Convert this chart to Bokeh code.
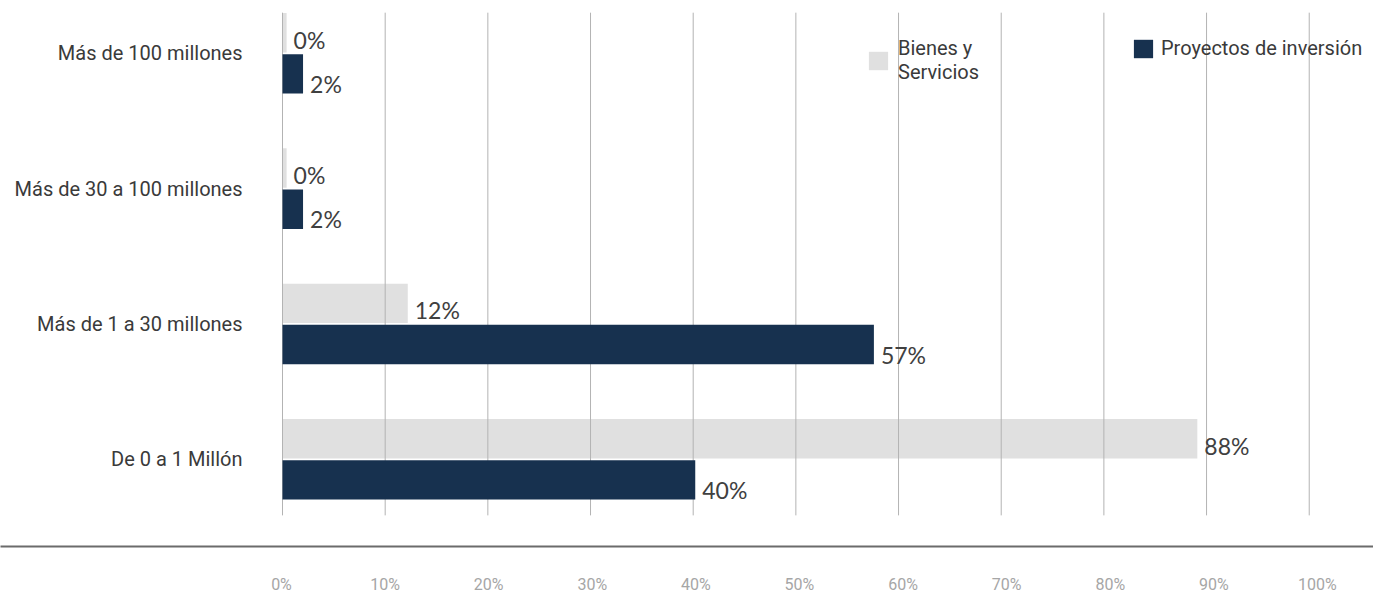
from bokeh.plotting import figure
from bokeh.models import Range1d, LinearAxis, FixedTicker, Legend, LegendItem, ColumnDataSource
from bokeh.core.properties import value
from bokeh.embed import file_html
from bokeh.resources import INLINE

# ---- data ----
categories = ["Más de 100 millones", "Más de 30 a 100 millones",
              "Más de 1 a 30 millones", "De 0 a 1 Millón"]
bienes = [0.4, 0.4, 12.2, 89.1]
bienes_labels = ["0%", "0%", "12%", "88%"]
proyectos = [2.0, 2.0, 57.6, 40.2]
proyectos_labels = ["2%", "2%", "57%", "40%"]
series_names = ["Bienes y\nServicios", "Proyectos de inversión"]
series_colors = ["#e0e0e0", "#17314f"]
tick_values = [0, 10, 20, 30, 40, 50, 60, 70, 80, 90, 100]
tick_labels = ["0%", "10%", "20%", "30%", "40%", "50%", "60%", "70%", "80%", "90%", "100%"]

FONT_NAME = "Roboto"
FONT = value(FONT_NAME)

n = len(categories)
ypos = [n - 1 - i for i in range(n)]
off = 0.152
bar_h = 0.291

src_b = ColumnDataSource(dict(y=[v + off for v in ypos], right=bienes, lab=bienes_labels))
src_p = ColumnDataSource(dict(y=[v - off for v in ypos], right=proyectos, lab=proyectos_labels))
src_c = ColumnDataSource(dict(y=ypos, x=[0] * n, cat=categories))

p = figure(width=1373, height=596,
           x_range=Range1d(-27.467, 106.26), y_range=Range1d(-0.644, 3.390),
           output_backend="svg", toolbar_location=None,
           x_axis_location=None, y_axis_location=None,
           min_border=0, outline_line_color=None)
p.grid.visible = False
p.min_border_bottom = 48

# bars (light series under grid lines, dark series above)
r_b = p.hbar(y="y", left=0, right="right", height=bar_h, source=src_b,
             fill_color=series_colors[0], line_color=None)
p.segment(x0=tick_values, x1=tick_values,
          y0=[-0.414] * len(tick_values), y1=[3.30] * len(tick_values),
          line_color="#b3b3b3", line_width=1)
r_p = p.hbar(y="y", left=0, right="right", height=bar_h, source=src_p,
             fill_color=series_colors[1], line_color=None)

# value labels
p.text(x="right", y="y", text="lab", source=src_b, x_offset=7, y_offset=7,
       text_align="left", text_baseline="middle", text_font=value("Lato"),
       text_font_size="23px", text_color="#404040")
p.text(x="right", y="y", text="lab", source=src_p, x_offset=7, y_offset=10,
       text_align="left", text_baseline="middle", text_font=value("Lato"),
       text_font_size="23px", text_color="#404040")

# category labels
p.text(x="x", y="y", text="cat", source=src_c, x_offset=-40,
       text_align="right", text_baseline="middle", text_font=FONT,
       text_font_size="20px", text_color="#3a3a3a")

# bottom axis with percentage labels
p.extra_x_ranges = {"ticks": Range1d(-27.124, 105.41)}
ax = LinearAxis(x_range_name="ticks", ticker=FixedTicker(ticks=tick_values),
                major_label_overrides={v: l for v, l in zip(tick_values, tick_labels)})
ax.axis_line_color = "#6b6b6b"
ax.axis_line_width = 2
ax.major_tick_line_color = None
ax.minor_tick_line_color = None
ax.major_tick_out = 0
ax.major_tick_in = 0
ax.major_label_standoff = 28
ax.major_label_text_font = FONT_NAME
ax.major_label_text_font_size = "16px"
ax.major_label_text_color = "#a6a6a6"
p.add_layout(ax, "below")

# legends
def mk_legend(label, r, loc, standoff):
    lg = Legend(items=[LegendItem(label=label, renderers=[r])], location=loc,
                orientation="vertical", padding=0, margin=0, spacing=0,
                glyph_width=24, glyph_height=23, label_standoff=standoff,
                border_line_color=None, background_fill_alpha=0,
                label_text_font=FONT_NAME, label_text_font_size="20px",
                label_text_color="#3a3a3a", label_text_line_height=1.35)
    p.add_layout(lg)
    return lg

mk_legend(series_names[0], r_b, (866, 462), 8)
mk_legend(series_names[1], r_p, (1131, 486), 6)

open("out.html", "w").write(file_html(p, INLINE))
